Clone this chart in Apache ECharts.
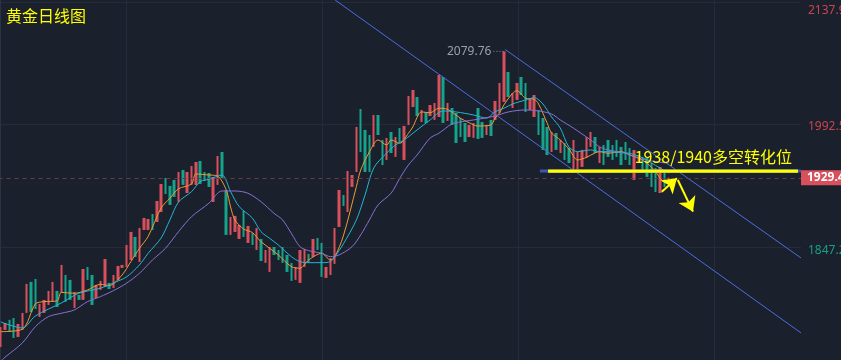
<!DOCTYPE html>
<html><head><meta charset="utf-8">
<script src="https://cdn.jsdelivr.net/npm/echarts@6/dist/echarts.min.js"></script>
<style>html,body{margin:0;padding:0;background:#1b202d;}#c{width:841px;height:360px;}</style>
</head><body><div id="c"></div><script>
// ---------- data ----------
const chartTitle = '黄金日线图';
const slotCount = 185; // 155 daily candles + empty space on the right
const categories = Array.from({length: slotCount}, (_, i) => 'D' + (i + 1));

// [open, close, low, high]
const ohlc = [
[1728.1,1751.9,1728.1,1751.9],[1748.4,1756.7,1748.4,1756.7],[1760.4,1746.0,1746.0,1760.4],[1762.6,1738.8,1738.8,1762.6],
[1740.0,1755.5,1740.0,1755.5],[1748.4,1768.6,1748.4,1768.6],[1768.6,1803.1,1768.6,1803.1],[1805.5,1769.8,1769.8,1805.5],
[1809.0,1773.3,1773.3,1809.0],[1763.8,1779.3,1763.8,1779.3],[1768.6,1784.1,1768.6,1784.1],[1778.1,1794.8,1778.1,1794.8],
[1781.7,1805.5,1781.7,1805.5],[1794.8,1775.7,1775.7,1794.8],[1792.4,1825.7,1792.4,1825.7],[1813.8,1781.7,1781.7,1813.8],
[1807.9,1784.1,1784.1,1807.9],[1774.5,1793.6,1774.5,1793.6],[1790.0,1784.1,1784.1,1790.0],[1784.1,1820.9,1784.1,1820.9],
[1823.3,1807.9,1807.9,1823.3],[1813.8,1778.1,1778.1,1813.8],[1786.4,1801.9,1786.4,1801.9],[1796.0,1806.7,1796.0,1806.7],
[1799.5,1832.8,1799.5,1832.8],[1804.3,1797.1,1797.1,1804.3],[1798.3,1813.8,1798.3,1813.8],[1807.9,1824.5,1807.9,1824.5],
[1822.1,1825.7,1822.1,1825.7],[1823.3,1849.5,1823.3,1849.5],[1831.6,1865.0,1831.6,1865.0],[1859.0,1835.2,1835.2,1859.0],
[1829.2,1869.7,1829.2,1869.7],[1867.3,1881.6,1867.3,1881.6],[1867.3,1880.4,1867.3,1880.4],[1886.3,1867.3,1867.3,1886.3],
[1876.8,1901.8,1876.8,1901.8],[1888.7,1922.0,1888.7,1922.0],[1929.2,1910.1,1910.1,1929.2],[1919.7,1897.1,1897.1,1919.7],
[1926.8,1906.6,1906.6,1926.8],[1900.6,1936.3,1900.6,1936.3],[1938.7,1920.9,1920.9,1938.7],[1911.3,1936.3,1911.3,1936.3],
[1920.9,1943.4,1920.9,1943.4],[1920.9,1948.2,1920.9,1948.2],[1949.4,1922.0,1922.0,1949.4],[1936.3,1925.6,1925.6,1936.3],
[1935.1,1918.5,1918.5,1935.1],[1900.6,1930.4,1900.6,1930.4],[1920.9,1955.3,1920.9,1955.3],[1960.1,1929.2,1929.2,1960.1],
[1914.9,1861.4,1861.4,1914.9],[1861.4,1882.8,1861.4,1882.8],[1864.9,1884.0,1864.9,1884.0],[1856.6,1873.3,1856.6,1873.3],
[1889.9,1859.0,1859.0,1889.9],[1851.9,1872.1,1851.9,1872.1],[1863.7,1849.5,1849.5,1863.7],[1843.5,1869.7,1843.5,1869.7],
[1856.6,1830.4,1830.4,1856.6],[1828.1,1843.5,1828.1,1843.5],[1817.4,1847.1,1817.4,1847.1],[1847.1,1837.6,1837.6,1847.1],
[1843.5,1831.6,1831.6,1843.5],[1847.1,1828.1,1828.1,1847.1],[1837.6,1817.4,1817.4,1837.6],[1828.1,1806.7,1806.7,1828.1],
[1807.9,1823.3,1807.9,1823.3],[1804.3,1843.5,1804.3,1843.5],[1823.3,1844.7,1823.3,1844.7],[1838.8,1828.1,1828.1,1838.8],
[1835.2,1856.6,1835.2,1856.6],[1857.8,1843.5,1843.5,1857.8],[1851.9,1811.4,1811.4,1851.9],[1810.2,1823.3,1810.2,1823.3],
[1813.8,1834.0,1813.8,1834.0],[1826.9,1869.7,1826.9,1869.7],[1870.9,1914.9,1870.9,1914.9],[1908.9,1895.9,1895.9,1908.9],
[1888.7,1937.5,1888.7,1937.5],[1918.5,1932.7,1918.5,1932.7],[1936.3,1989.8,1936.3,1989.8],[2011.2,1960.1,1960.1,2011.2],
[1986.3,1936.3,1936.3,1986.3],[1980.3,1936.3,1936.3,1980.3],[1966.1,2004.1,1966.1,2004.1],[2004.1,1980.3,1980.3,2004.1],
[1974.4,1944.6,1944.6,1974.4],[1950.6,1976.8,1950.6,1976.8],[1983.9,1958.9,1958.9,1983.9],[1954.2,1977.9,1954.2,1977.9],
[1988.6,1972.0,1972.0,1988.6],[1950.6,1991.0,1950.6,1991.0],[1992.2,2026.7,1992.2,2026.7],[2013.6,2033.8,2013.6,2033.8],
[2025.5,2002.9,2002.9,2025.5],[1995.8,2010.1,1995.8,2010.1],[2007.7,1994.6,1994.6,2007.7],[2002.9,2016.0,2002.9,2016.0],
[1998.2,2018.4,1998.2,2018.4],[2001.7,2051.7,2001.7,2051.7],[2049.3,1994.6,1994.6,2049.3],[1997.0,2018.4,1997.0,2018.4],
[2012.4,1992.2,1992.2,2012.4],[2006.5,1970.8,1970.8,2006.5],[2000.5,1977.9,1977.9,2000.5],[1994.6,1972.0,1972.0,1994.6],
[1977.9,1992.2,1977.9,1992.2],[1976.8,1994.6,1976.8,1994.6],[2012.4,1975.6,1975.6,2012.4],[1995.8,1976.8,1976.8,1995.8],
[1980.3,1992.2,1980.3,1992.2],[1998.2,1979.1,1979.1,1998.2],[1998.2,2020.8,1998.2,2020.8],[2006.5,2042.2,2006.5,2042.2],
[2019.6,2079.76,2019.6,2079.76],[2055.3,2025.5,2025.5,2055.3],[2012.4,2030.3,2012.4,2030.3],[2022.0,2042.2,2022.0,2042.2],
[2049.3,2027.9,2027.9,2049.3],[2042.2,2007.7,2007.7,2042.2],[2010.1,2023.1,2010.1,2023.1],[2001.7,2027.9,2001.7,2027.9],
[2010.1,1980.3,1980.3,2010.1],[2000.5,1962.5,1962.5,2000.5],[1989.8,1956.5,1956.5,1989.8],[1960.1,1983.9,1960.1,1983.9],
[1982.7,1962.5,1962.5,1982.7],[1958.9,1974.4,1958.9,1974.4],[1970.8,1950.6,1950.6,1970.8],[1964.9,1947.0,1947.0,1964.9],
[1938.7,1974.4,1938.7,1974.4],[1936.3,1960.1,1936.3,1960.1],[1942.3,1962.5,1942.3,1962.5],[1953.0,1977.9,1953.0,1977.9],
[1966.1,1983.9,1966.1,1983.9],[1977.9,1958.9,1958.9,1977.9],[1947.0,1966.1,1947.0,1966.1],[1968.4,1944.6,1944.6,1968.4],
[1974.4,1954.2,1954.2,1974.4],[1968.4,1950.6,1950.6,1968.4],[1974.4,1954.2,1954.2,1974.4],[1966.1,1944.6,1944.6,1966.1],
[1972.0,1950.6,1950.6,1972.0],[1964.9,1944.6,1944.6,1964.9],[1926.8,1962.5,1926.8,1962.5],[1948.2,1956.5,1948.2,1956.5],
[1954.2,1938.7,1938.7,1954.2],[1953.0,1930.4,1930.4,1953.0],[1947.0,1918.5,1918.5,1947.0],[1941.1,1912.5,1912.5,1941.1],
[1911.3,1942.3,1911.3,1942.3],[1936.3,1918.5,1918.5,1936.3],[1924.4,1929.4,1924.4,1929.4]
];

// moving averages: [candle index, value]
const maFast = [[0,1746.3],[5,1749.2],[8,1779.3],[10,1782.0],[13,1782.9],[14,1793.0],[17,1792.0],[20,1795.9],[23,1802.7],[25,1801.1],[28,1813.8],[30,1829.6],[32,1845.5],[34,1859.6],[37,1893.5],[39,1905.0],[41,1916.3],[44,1922.0],[45,1933.9],[48,1932.7],[50,1931.5],[52,1914.9],[53,1894.7],[54,1879.2],[56,1868.5],[58,1864.3],[60,1853.4],[62,1845.5],[64,1837.6],[67,1823.7],[69,1821.8],[71,1831.6],[74,1839.6],[76,1831.6],[77,1835.2],[79,1860.2],[82,1918.8],[83,1938.7],[85,1960.1],[87,1974.4],[89,1968.4],[90,1974.4],[92,1970.4],[94,1982.3],[95,1989.8],[97,2007.7],[99,2006.8],[101,2012.1],[103,2010.9],[106,2000.2],[108,1994.9],[110,1991.0],[113,1992.2],[114,2000.5],[115,2006.5],[116,2016.0],[118,2029.9],[119,2033.0],[121,2024.0],[123,2022.8],[124,2017.2],[126,1994.2],[127,1982.7],[129,1974.4],[131,1963.7],[133,1950.6],[135,1953.6],[137,1958.9],[138,1960.5],[140,1958.6],[143,1960.5],[145,1956.5],[147,1953.0],[149,1946.7],[151,1936.7],[152,1928.8],[153,1924.8],[154,1923.2]];
const maMid = [[0,1757.9],[5,1750.7],[8,1765.0],[14,1780.5],[18,1792.0],[23,1798.0],[26,1804.3],[29,1811.4],[32,1825.7],[34,1839.6],[37,1857.8],[39,1879.2],[41,1900.6],[44,1912.9],[46,1924.8],[48,1927.6],[51,1932.7],[53,1912.9],[55,1895.0],[58,1881.6],[60,1865.3],[62,1857.4],[64,1849.5],[67,1835.6],[69,1829.6],[71,1828.4],[74,1828.4],[76,1829.6],[77,1835.2],[79,1850.7],[82,1879.2],[84,1908.9],[86,1941.1],[89,1958.9],[91,1968.4],[93,1974.4],[96,1986.3],[99,1998.2],[102,2008.9],[105,2007.7],[107,2006.1],[109,2004.1],[112,2000.5],[114,2008.0],[116,2012.1],[118,2017.2],[121,2021.9],[123,2024.7],[125,2017.2],[127,2001.7],[129,1988.6],[131,1966.0],[133,1960.5],[136,1962.5],[138,1960.5],[140,1960.5],[143,1959.3],[145,1958.6],[147,1955.3],[149,1950.6],[151,1944.0],[153,1938.1],[154,1935.1]];
const maSlow = [[0,1711.0],[1,1715.9],[5,1732.9],[8,1752.3],[11,1764.2],[14,1768.2],[17,1772.2],[20,1782.0],[23,1788.0],[26,1795.1],[29,1803.9],[32,1815.8],[35,1831.6],[38,1845.5],[41,1865.3],[44,1883.1],[48,1899.1],[51,1913.7],[54,1913.7],[57,1911.0],[60,1901.0],[63,1887.2],[65,1879.2],[67,1863.4],[69,1847.4],[71,1842.7],[74,1839.6],[76,1835.6],[78,1837.6],[81,1847.4],[83,1861.4],[85,1879.2],[87,1897.1],[90,1911.0],[92,1928.8],[94,1944.6],[96,1956.5],[99,1976.7],[101,1982.3],[104,1993.4],[106,1995.8],[110,1999.0],[114,2002.9],[117,2007.7],[121,2010.1],[124,2008.9],[127,2005.3],[129,1998.2],[132,1988.6],[136,1974.4],[138,1966.4],[140,1962.5],[144,1958.6],[147,1952.6],[151,1948.6],[154,1946.7]];

const yTickValues = [1847.2, 1992.5, 2137.9];
const timeGridValues = [29.0, 74.1, 119.3, 164.5];
const lastPrice = 1929.4;
const peakHigh = 2079.76;
const peakLeader = [[113.6, 2079.76], [116.0, 2079.76]];
const keyLevelText = '1938/1940多空转化位';
const keyLineBase = [[124.3, 1937.5], [184.5, 1937.5]];
const keyLineSpan = [[126.2, 1937.5], [183.8, 1937.5]];
const channelUpper = [[116.3, 2082.0], [184.5, 1834.0]];
const channelLower = [[77.1, 2140.9], [184.5, 1744.8]];
const arrowUp = [[152.4, 1912.9], [155.9, 1928.8]];
const arrowDown = [[156.1, 1926.8], [159.6, 1889.1]];

// ---------- chart ----------
const UP = '#d8505c', DOWN = '#16a38b';
const labelRich = {
  hi: {color: '#c94452', fontSize: 12, fontFamily: 'Noto Sans', padding: [17, 0, 0, 0]},
  mid: {color: '#c94452', fontSize: 12, fontFamily: 'Noto Sans', padding: [4, 0, 0, 0]},
  lo: {color: '#15a086', fontSize: 12, fontFamily: 'Noto Sans', padding: [8, 0, 0, 0]}
};
const chart = echarts.init(document.getElementById('c'), null, {renderer: 'canvas'});
chart.setOption({
  animation: false,
  backgroundColor: '#1b202d',
  title: {text: chartTitle, left: 1, top: 3, textStyle: {color: '#ffff00', fontSize: 16, fontWeight: 'normal', fontFamily: 'Noto Sans CJK SC'}},
  grid: {left: -1.5, right: 40, top: 0, bottom: 0, outerBoundsMode: 'none', containLabel: false},
  xAxis: [
    {type: 'category', data: categories, boundaryGap: true, axisLine: {show: false}, axisTick: {show: false}, axisLabel: {show: false}, splitLine: {show: false}},
    {type: 'value', min: -0.5, max: slotCount - 0.5, axisLine: {show: false}, axisTick: {show: false, customValues: timeGridValues}, axisLabel: {show: false, customValues: timeGridValues}, splitLine: {show: true, lineStyle: {color: '#252b38', width: 1}}}
  ],
  yAxis: {
    type: 'value', position: 'right', min: 1712.6, max: 2140.9, scale: true,
    axisLine: {show: true, lineStyle: {color: '#2b3241'}},
    axisTick: {show: false, customValues: yTickValues},
    axisLabel: {customValues: yTickValues, margin: 7, fontSize: 12, fontFamily: 'Noto Sans',
      formatter: v => {
        const key = v > 2100 ? 'hi' : (v > lastPrice ? 'mid' : 'lo');
        return '{' + key + '|' + v.toFixed(1) + '}';
      },
      rich: labelRich},
    splitLine: {show: true, lineStyle: {color: '#252b38', width: 1}}
  },
  series: [
    {type: 'candlestick', name: 'K', data: ohlc, barWidth: 3,
     itemStyle: {color: UP, color0: DOWN, borderColor: UP, borderColor0: DOWN, borderWidth: 0},
     markLine: {silent: true, symbol: 'none', animation: false, data: [{yAxis: lastPrice}],
       lineStyle: {color: '#733848', type: [4, 4], width: 1},
       label: {show: true, position: 'end', distance: 0, formatter: String(lastPrice), color: '#ffffff', fontWeight: 'bold', fontSize: 12, fontFamily: 'Noto Sans', backgroundColor: UP, padding: [2, 6, 1, 6]}}},
    {type: 'line', name: 'MA5', data: maFast, smooth: 0.3, symbol: 'none', lineStyle: {color: '#f09a34', width: 1}, z: 3},
    {type: 'line', name: 'MA10', data: maMid, smooth: 0.3, symbol: 'none', lineStyle: {color: '#24b6d6', width: 1}, z: 3},
    {type: 'line', name: 'MA20', data: maSlow, smooth: 0.3, symbol: 'none', lineStyle: {color: '#8a6fd4', width: 1}, z: 3},
    {type: 'line', xAxisIndex: 1, data: channelUpper, symbol: 'none', lineStyle: {color: '#4b6de0', width: 1}, z: 4},
    {type: 'line', xAxisIndex: 1, data: channelLower, symbol: 'none', lineStyle: {color: '#4b6de0', width: 1}, z: 4},
    {type: 'line', xAxisIndex: 1, data: keyLineBase, symbol: 'none', lineStyle: {color: '#3d55aa', width: 3}, z: 5},
    {type: 'line', xAxisIndex: 1, data: keyLineSpan, symbol: 'none', lineStyle: {color: '#ffff00', width: 3}, z: 6,
     markLine: {silent: true, symbol: 'none', animation: false,
       data: [[{coord: keyLineSpan[0]}, {coord: keyLineSpan[1]}]],
       lineStyle: {color: '#ffff00', width: 3, type: 'solid'},
       label: {show: true, position: 'insideEndTop', distance: 6, formatter: keyLevelText, color: '#ffff00', fontSize: 16, fontFamily: 'Noto Sans CJK SC'}}},
    {type: 'line', xAxisIndex: 1, data: [{value: peakLeader[0], label: {show: true, position: 'left', distance: 2, formatter: peakHigh.toFixed(2), color: '#9aa0a9', fontSize: 12, fontFamily: 'Noto Sans'}}, {value: peakLeader[1]}],
     symbol: 'circle', symbolSize: 0.1, showSymbol: true, lineStyle: {color: '#8d939c', type: [1, 2], width: 1}, z: 5},
    {type: 'line', xAxisIndex: 1, data: [arrowUp[0]], symbol: 'none', z: 7,
     markLine: {silent: true, animation: false, symbol: ['none', 'arrow'], symbolSize: 14,
       lineStyle: {color: '#ffff00', width: 2, type: 'solid'}, label: {show: false},
       data: [[{coord: arrowUp[0]}, {coord: arrowUp[1]}], [{coord: arrowDown[0]}, {coord: arrowDown[1]}]]}}
  ]
});
</script></body></html>
